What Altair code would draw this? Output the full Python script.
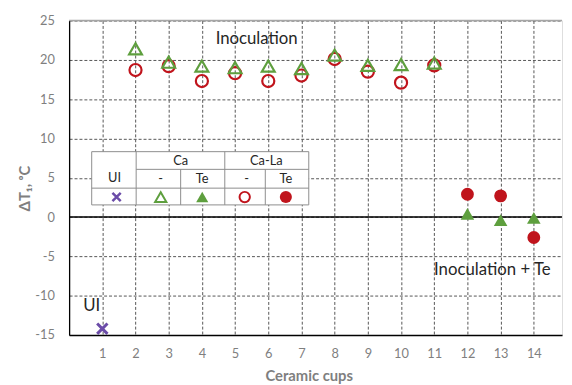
import altair as alt
import pandas as pd

# ---------------- data ----------------
ui_cups = [1]
ui_vals = [-14.2]

ca_cups = [2, 3, 4, 5, 6, 7, 8, 9, 10, 11]
ca_vals = [21.4, 19.7, 19.2, 19.0, 19.2, 18.9, 20.6, 19.3, 19.4, 19.6]
cala_vals = [18.7, 19.2, 17.3, 18.3, 17.3, 18.0, 20.1, 18.5, 17.1, 19.3]

te_cups = [12, 13, 14]
ca_te_vals = [0.4, -0.4, -0.1]
cala_te_vals = [2.9, 2.7, -2.6]

x_ticks = list(range(1, 15))
y_ticks = [-15, -10, -5, 0, 5, 10, 15, 20, 25]

annotations = ["Inoculation", "Inoculation + Te", "UI"]

# legend-table texts
leg_texts = ["UI", "Ca", "Ca-La", "-", "Te", "-", "Te"]

GREEN = "#5E9F3E"
RED = "#C0141C"
PURPLE = "#6B4CA8"
GRAY = "#7F7F7F"
FONT = "Lato"

xs = alt.Scale(domain=[0, 14.85], nice=False, zero=False)
ys = alt.Scale(domain=[-15, 25], nice=False, zero=False)

x_axis = alt.Axis(
    values=x_ticks, title="Ceramic cups", grid=True, gridDash=[3, 2], gridColor="#555555",
    gridWidth=1, ticks=False, tickSize=0, labelPadding=13, labelColor=GRAY, labelFontSize=13,
    labelFont=FONT, labelOverlap=False, labelFlush=False, labelExpr="'' + datum.value",
    domainColor="#000000", domainWidth=1.3, titleColor=GRAY, titleFont=FONT,
    titleFontSize=15, titleFontWeight="bold", titleX=243, titleY=41, titleBaseline="middle")
y_axis = alt.Axis(
    values=y_ticks, title="ΔT₁, ᵒC", grid=True, gridDash=[3, 2], gridColor="#555555",
    gridWidth=1, ticks=False, tickSize=0, labelPadding=15, labelColor=GRAY, labelFontSize=13,
    labelFont=FONT, labelOverlap=False, labelFlush=False, labelExpr="'' + datum.value",
    domainColor="#000000", domainWidth=1.3, titleColor=GRAY, titleFont=FONT,
    titleFontSize=15, titleFontWeight="bold", titleX=-45, titleY=170, titleAngle=-90,
    titleBaseline="middle", titleAlign="center")

XE = alt.X("x:Q", scale=xs, axis=x_axis)
YE = alt.Y("y:Q", scale=ys, axis=y_axis)

X_SHAPE = "M-1,-1L1,1M-1,1L1,-1"


def pts(df, **kw):
    return alt.Chart(df).mark_point(opacity=1, **kw).encode(x=XE, y=YE)


top_rule = alt.Chart(pd.DataFrame({"y": [25]})).mark_rule(color="#A6A6A6", strokeWidth=1.5).encode(y=YE)
zero_rule = alt.Chart(pd.DataFrame({"y": [0]})).mark_rule(color="#000000", strokeWidth=1.5).encode(y=YE)

# legend table (decoration)
tbl_box = pd.DataFrame({"x": [0.68], "x2": [7.22], "y": [1.55], "y2": [8.32]})
tbl_rect = alt.Chart(tbl_box).mark_rect(fill="white", stroke="#8C8C8C", strokeWidth=1).encode(
    x=XE, x2="x2", y=YE, y2="y2")
tbl_lines = pd.DataFrame({
    "x": [2.02, 0.68, 2.02, 4.69, 3.36, 5.91],
    "x2": [7.22, 7.22, 2.02, 4.69, 3.36, 5.91],
    "y": [6.07, 3.68, 1.55, 1.55, 1.55, 1.55],
    "y2": [6.07, 3.68, 8.32, 8.32, 6.07, 6.07],
})
tbl_rules = alt.Chart(tbl_lines).mark_rule(color="#8C8C8C", strokeWidth=1).encode(
    x=XE, x2="x2", y=YE, y2="y2")
tbl_text_df = pd.DataFrame({
    "t": leg_texts,
    "x": [1.37, 3.36, 5.94, 2.76, 4.01, 5.35, 6.53],
    "y": [4.95, 7.15, 7.15, 4.8, 4.8, 4.8, 4.8],
})
tbl_text = alt.Chart(tbl_text_df).mark_text(font=FONT, fontSize=13, color="#262626").encode(
    x=XE, y=YE, text="t:N")

leg_y = 2.55
leg_ui = pts(pd.DataFrame({"x": [1.43], "y": [leg_y]}), shape=X_SHAPE, size=70, strokeWidth=2.5,
             filled=False, color=PURPLE)
leg_tri_o = pts(pd.DataFrame({"x": [2.76], "y": [leg_y]}), shape="triangle-up", size=130,
                strokeWidth=2, filled=False, color=GREEN)
leg_tri_f = pts(pd.DataFrame({"x": [4.01], "y": [leg_y]}), shape="triangle-up", size=150,
                filled=True, color=GREEN)
leg_cir_o = pts(pd.DataFrame({"x": [5.29], "y": [leg_y]}), shape="circle", size=110,
                strokeWidth=2, filled=False, color=RED)
leg_cir_f = pts(pd.DataFrame({"x": [6.53], "y": [leg_y]}), shape="circle", size=150,
                filled=True, color=RED)

# data series
ui_pts = pts(pd.DataFrame({"x": ui_cups, "y": ui_vals}), shape=X_SHAPE, size=110, strokeWidth=3,
             filled=False, color=PURPLE)
cala_pts = pts(pd.DataFrame({"x": ca_cups, "y": cala_vals}), shape="circle", size=150,
               strokeWidth=2.2, filled=False, color=RED)
ca_pts = pts(pd.DataFrame({"x": ca_cups, "y": ca_vals}), shape="triangle-up", size=170,
             strokeWidth=2.2, filled=False, color=GREEN)
cala_te_pts = pts(pd.DataFrame({"x": te_cups, "y": cala_te_vals}), shape="circle", size=170,
                  filled=True, color=RED)
ca_te_pts = pts(pd.DataFrame({"x": te_cups, "y": ca_te_vals}), shape="triangle-up", size=190,
                filled=True, color=GREEN)

ann_df = pd.DataFrame({"t": annotations, "x": [5.65, 12.75, 0.68], "y": [22.65, -6.8, -11.35]})
ann = alt.Chart(ann_df).mark_text(font=FONT, fontSize=17, color="#262626").encode(
    x=XE, y=YE, text="t:N")

chart = alt.layer(
    top_rule, zero_rule,
    cala_pts, ca_pts, cala_te_pts, ca_te_pts, ui_pts,
    tbl_rect, tbl_rules, tbl_text, leg_ui, leg_tri_o, leg_tri_f, leg_cir_o, leg_cir_f,
    ann,
).properties(
    width=500, height=319,
    padding={"left": 62, "top": 10, "right": 2, "bottom": 48},
    autosize="none",
).configure_view(stroke=None).configure(background="white")

chart.save("out.html", embed_options={"renderer": "svg", "actions": False})
